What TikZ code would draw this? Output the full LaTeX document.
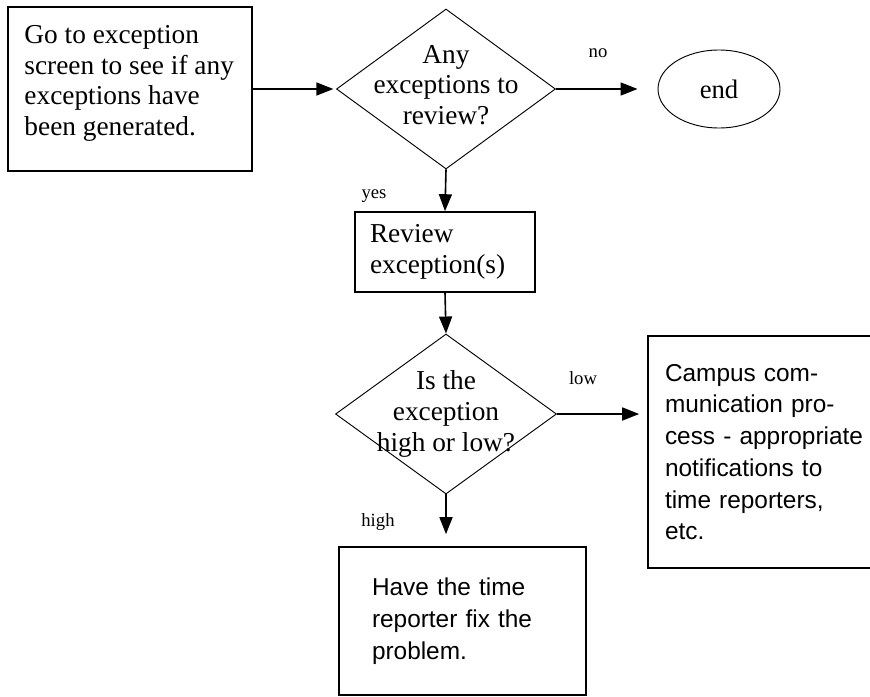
\documentclass[tikz,border=0pt]{standalone}
\usepackage{fontspec}
\setmainfont{Liberation Serif}
\newfontfamily\boxsans{Liberation Sans}
\usetikzlibrary{shapes.geometric,arrows.meta}

\begin{document}
\begin{tikzpicture}[x=0.75pt,y=-0.75pt,
  box/.style={draw,line width=1.2pt,rectangle,inner sep=0pt},
  dia/.style={draw,line width=0.7pt,diamond,inner sep=0pt},
  oval/.style={draw,line width=0.7pt,ellipse,inner sep=0pt},
  serif/.style={font=\fontsize{20.5}{23}\selectfont},
  sanstext/.style={font=\boxsans\fontsize{18.3}{23.8}\selectfont},
  tag/.style={font=\fontsize{14}{16}\selectfont,inner sep=0pt},
  flow/.style={line width=1.2pt,-{Triangle[length=12.75pt,width=9.75pt]}},
]
\useasboundingbox (0,0) rectangle (870,696);
\clip (0,0) rectangle (870,696);

% starting box
\node[box, minimum width=183pt, minimum height=123pt] (start) at (130,89) {};
\node[serif, align=left, anchor=north west, inner sep=0pt] (starttext)
  at ([shift={(17,19)}]start.north west)
  {Go to exception\\screen to see if any\\exceptions have\\been generated.};

% first decision
\node[dia, minimum width=164.25pt, minimum height=120pt,
  label={[serif,align=center,inner sep=0pt,yshift=3pt]center:Any\\exceptions to\\review?}] (ask) at (446,89) {};

% end terminal
\node[oval, minimum width=91.5pt, minimum height=58.5pt,
  font=\fontsize{20}{22}\selectfont] (end) at (719,89) {end};

% review step
\node[box, serif, minimum width=135pt, minimum height=60pt, inner xsep=11.25pt,
  text width=112.5pt, align=left] (review) at (445,252) {Review\\exception(s)};

% second decision
\node[dia, minimum width=165.75pt, minimum height=120pt,
  label={[serif,align=center,inner sep=0pt]center:Is the\\exception\\high or low?}] (level) at (446,414) {};

% low branch: campus communication (runs past the right edge)
\node[box, sanstext, minimum width=225pt, minimum height=174pt, inner xsep=12.75pt,
  text width=199.5pt, align=left] (campus) at (798,452)
  {Campus com-\\munication pro-\\cess - appropriate\\notifications to\\time reporters,\\etc.};

% high branch: fix the problem
\node[box, sanstext, minimum width=185.25pt, minimum height=111pt, inner xsep=24.75pt,
  text width=135.75pt, align=left] (fix) at (462.5,621)
  {Have the time\\reporter fix the\\problem.};

% connectors
\draw[flow, shorten >=2pt] (start.east) -- (ask.west);
\draw[flow, shorten >=15pt] (ask.east) -- (end.west);
\draw[flow] (ask.south) -- (review.north);
\draw[flow] (review.south) -- (level.north);
\draw[flow, shorten >=6pt] (level.east) -- (level.east -| campus.west);
\draw[flow, shorten >=9pt] (level.south) -- (level.south |- fix.north);

% branch tags
\node[tag] (tagno) at (598,53) {no};
\node[tag] (tagyes) at (374,196) {yes};
\node[tag] (taglow) at (583,378) {low};
\node[tag] (taghigh) at (378,522) {high};
\end{tikzpicture}
\end{document}
